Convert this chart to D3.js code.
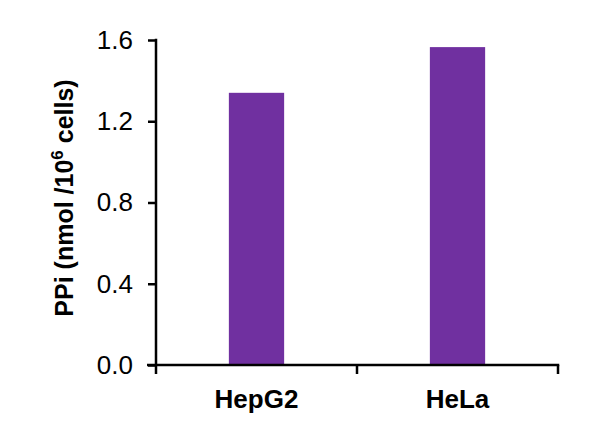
<!DOCTYPE html>
<html>
<head>
<meta charset="utf-8">
<script src="https://cdn.jsdelivr.net/npm/d3@7"></script>
<style>
  body { margin: 0; background: #fff; }
  text { font-family: "Liberation Sans", Arial, sans-serif; fill: #000; }
</style>
</head>
<body>
<svg id="chart" width="595" height="435"></svg>
<script>
var categories = ["HepG2", "HeLa"]
var values = [1.34, 1.565]
var yTicks = [0, 0.4, 0.8, 1.2, 1.6]

const svg = d3.select("#chart")

const margin = { top: 40, right: 37, bottom: 70, left: 156 }
const width = +svg.attr("width") - margin.left - margin.right
const height = +svg.attr("height") - margin.top - margin.bottom

const g = svg.append("g")
  .attr("transform", `translate(${margin.left},${margin.top})`)

const x = d3.scaleBand()
  .domain(categories)
  .range([0, width])
  .paddingInner(0.725)
  .paddingOuter(0.3625)

const y = d3.scaleLinear()
  .domain([0, 1.6])
  .range([height, 0])

// bars
g.selectAll("rect.bar")
  .data(categories)
  .enter()
  .append("rect")
  .attr("class", "bar")
  .attr("x", (d) => x(d))
  .attr("y", (d, i) => y(values[i]))
  .attr("width", x.bandwidth())
  .attr("height", (d, i) => height - y(values[i]))
  .attr("fill", "#7030a0")

// y axis
const yAxis = g.append("g")
  .call(d3.axisLeft(y).tickValues(yTicks).tickFormat(d3.format(".1f")).tickSize(8).tickPadding(15))
yAxis.select(".domain").remove()
yAxis.selectAll("line").attr("stroke", "#000").attr("stroke-width", 2.5)
yAxis.selectAll("text").style("font-size", "26px").attr("fill", "#000")
yAxis.append("line")
  .attr("x1", 0).attr("x2", 0)
  .attr("y1", -1.25).attr("y2", height)
  .attr("stroke", "#000").attr("stroke-width", 2.5)

// x axis with ticks between categories
const xAxis = g.append("g").attr("transform", `translate(0,${height})`)
xAxis.append("line")
  .attr("x1", -9).attr("x2", width + 1.25)
  .attr("stroke", "#000").attr("stroke-width", 2.5)
const bounds = d3.range(categories.length + 1).map((i) => i * x.step())
xAxis.selectAll("line.tick")
  .data(bounds)
  .enter()
  .append("line")
  .attr("class", "tick")
  .attr("x1", (d) => d).attr("x2", (d) => d)
  .attr("y1", 0).attr("y2", 9)
  .attr("stroke", "#000").attr("stroke-width", 2.5)
xAxis.selectAll("text.cat")
  .data(categories)
  .enter()
  .append("text")
  .attr("class", "cat")
  .attr("x", (d) => x(d) + x.bandwidth() / 2)
  .attr("y", 43)
  .attr("text-anchor", "middle")
  .style("font-size", "26px")
  .style("font-weight", "bold")
  .text((d) => d)

// y axis title
const title = svg.append("text")
  .attr("transform", "translate(73,198) rotate(-90)")
  .attr("text-anchor", "middle")
  .style("font-size", "25px")
  .style("font-weight", "bold")
title.append("tspan").text("PPi (nmol /10")
title.append("tspan").attr("dy", -10).style("font-size", "17px").text("6")
title.append("tspan").attr("dy", 10).text(" cells)")
</script>
</body>
</html>
